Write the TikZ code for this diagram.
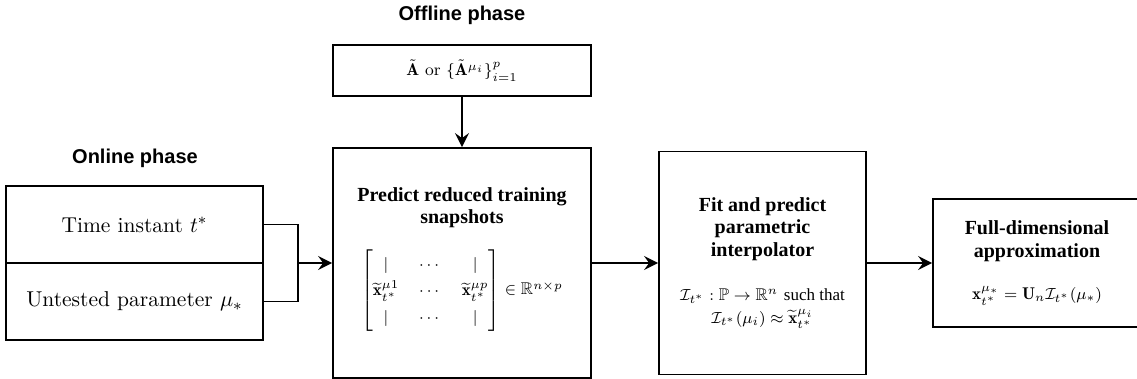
\documentclass[tikz,border=0pt]{standalone}
\usepackage{amsmath,amssymb}
\usepackage{fontspec}
\newfontfamily\headfont{Liberation Serif}
\newfontfamily\phasefont{Liberation Sans}
\usetikzlibrary{arrows.meta,positioning}
\newcommand\mathsz{\normalfont\fontsize{8.5}{11.5}\selectfont}

\begin{document}
\begin{tikzpicture}[x=1pt,y=1pt,
    box/.style={draw,line width=.9pt,align=center,inner sep=2pt,font=\headfont\bfseries\fontsize{10}{11.2}\selectfont},
    inbox/.style={draw,line width=.9pt,minimum width=128.5pt,minimum height=38.5pt,font=\fontsize{10.75}{13}\selectfont},
    phase/.style={font=\phasefont\bfseries\fontsize{10}{12}\selectfont},
    arr/.style={-{Stealth[length=7pt,width=7pt,inset=2.5pt]},line width=.9pt}
  ]
    \useasboundingbox (0,0) rectangle (568.5,189.5);

    % offline branch
    \node[phase] (offt) at (231,182) {Offline phase};
    \node[box,minimum width=129pt,minimum height=25.5pt] (amat) at (231,154.25)
      {\mathsz$\tilde{\mathbf{A}}$ or $\{\tilde{\mathbf{A}}^{\mu_i}\}_{i=1}^{p}$};
    \node[box,minimum width=129pt,minimum height=115pt] (predict) at (231,58)
      {Predict reduced training\\snapshots\\[10pt]
       {\mathsz\renewcommand\arraystretch{1.15}$\begin{bmatrix}\vert & \cdots & \vert\\
         \widetilde{\mathbf{x}}^{\mu1}_{t^*} & \cdots & \widetilde{\mathbf{x}}^{\mu p}_{t^*}\\
         \vert & \cdots & \vert\end{bmatrix}\in\mathbb{R}^{n\times p}$\rule[-22pt]{0pt}{1pt}}};

    % online inputs
    \node[phase] (onlt) at (67.5,110.5) {Online phase};
    \node[inbox] (time) at (67.25,77.25) {Time instant $t^*$};
    \node[inbox,below=-.9pt of time] (param) {Untested parameter $\mu_*$};
    \coordinate (join) at (149,58);

    \node[box,minimum width=103.5pt,minimum height=111.5pt] (fit) at (381.25,58)
      {Fit and predict\\parametric\\interpolator\\[11pt]
       {\mathsz$\mathcal{I}_{t^*}:\mathbb{P}\to\mathbb{R}^n$ {\headfont such that}}\\
       {\mathsz$\mathcal{I}_{t^*}(\mu_i)\approx\widetilde{\mathbf{x}}^{\mu_i}_{t^*}$}};
    \node[box,minimum width=104pt,minimum height=64pt] (full) at (518.5,58)
      {Full-dimensional\\approximation\\[10pt]
       {\mathsz$\mathbf{x}^{\mu_*}_{t^*}=\mathbf{U}_n\mathcal{I}_{t^*}(\mu_*)$}};

    % connectors
    \draw[line width=.9pt] (time.east) -| (join) |- (param.east);
    \draw[arr] (join) -- (join -| predict.west);
    \draw[arr] (amat) -- (predict);
    \draw[arr] (predict) -- (fit);
    \draw[arr] (fit) -- (full);
  \end{tikzpicture}
\end{document}
